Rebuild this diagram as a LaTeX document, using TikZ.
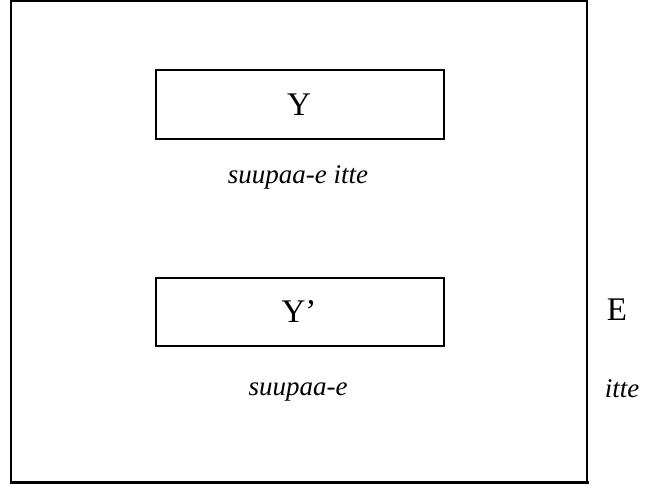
\documentclass[tikz,border=0pt]{standalone}
\usepackage{fontspec}
\setmainfont{Liberation Serif}
\begin{document}
\begin{tikzpicture}[x=1pt,y=-1pt,
  frame/.style={line width=2pt,black},
  boxnode/.style={draw,line width=2pt,rectangle,inner sep=0pt,anchor=north west},
  biglabel/.style={anchor=base,inner sep=0pt,font=\fontsize{33}{38}\selectfont},
  smalllabel/.style={anchor=base,inner sep=0pt,font=\fontsize{27}{32}\selectfont\itshape}]
\useasboundingbox (0,0) rectangle (646,486);
% outer frame
\draw[frame] (11,0) -- (11,483.5);
\draw[frame] (10,1) -- (588,1);
\draw[frame] (587,0) -- (587,482);
\draw[line width=3pt] (10,482.5) -- (589,482.5);
% boxes
\node[boxnode,minimum width=288pt,minimum height=69pt] (boxY) at (155,69) {};
\node[boxnode,minimum width=288pt,minimum height=68pt] (boxYp) at (155,277) {};
% labels
\node[biglabel] (labY) at (299,116) {Y};
\node[biglabel] (labYp) at (299,323) {Y’};
\node[biglabel] (labE) at (617,321) {E};
\node[smalllabel] (capY) at (298,184) {suupaa-e itte};
\node[smalllabel] (capYp) at (298,396) {suupaa-e};
\node[smalllabel] (capE) at (622,398) {itte};
\end{tikzpicture}
\end{document}
